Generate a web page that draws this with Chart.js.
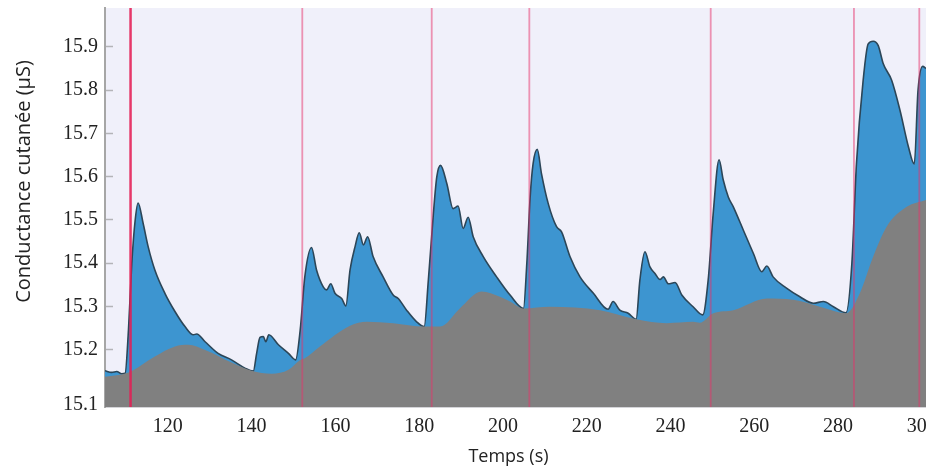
<!DOCTYPE html>
<html>
<head>
<meta charset="utf-8">
<script src="https://cdn.jsdelivr.net/npm/chart.js@4/dist/chart.umd.min.js"></script>
<style>
  html, body { margin: 0; padding: 0; background: #fff; }
  #wrap { width: 926px; height: 468px; }
</style>
</head>
<body>
<div id="wrap"><canvas id="edaChart" width="926" height="468"></canvas></div>
<script>
// --- Values ---
// skin conductance (blue), seconds / µS
const scTimes = [
  105.0, 106.6, 107.8, 109.0, 109.8, 110.6, 111.4, 112.2, 112.9, 114.1,
  115.3, 116.9, 119.3, 121.7, 124.1, 126.1, 126.9, 128.9, 132.0, 135.2,
  138.4, 140.4, 141.2, 142.0, 142.8, 143.4, 144.1, 146.4, 148.8, 150.5,
  151.6, 152.7, 154.3, 155.5, 157.1, 157.9, 158.9, 159.9, 161.5, 162.5,
  163.5, 164.7, 165.7, 166.7, 167.7, 169.0, 171.4, 173.8, 175.0, 177.0,
  179.4, 181.2, 182.2, 183.4, 184.2, 185.1, 186.6, 188.1, 189.3, 190.5,
  191.7, 192.9, 195.3, 198.5, 201.7, 204.9, 205.7, 206.5, 207.2, 208.2,
  209.2, 210.8, 212.8, 214.0, 216.0, 218.4, 221.6, 225.1, 226.3, 227.9,
  229.9, 231.8, 232.7, 233.9, 235.1, 236.3, 237.5, 238.3, 239.5, 241.1,
  242.7, 245.4, 247.7, 249.0, 250.2, 251.6, 252.6, 253.8, 255.0, 257.4,
  259.8, 261.8, 263.0, 264.5, 267.7, 270.9, 274.1, 276.5, 278.9, 281.9,
  283.3, 284.4, 286.0, 287.2, 288.4, 289.6, 290.8, 292.8, 294.8, 296.8,
  298.2, 299.1, 300.2, 301.0,
];
const scValues = [
  15.151, 15.147, 15.149, 15.144, 15.145, 15.245, 15.400, 15.499, 15.539, 15.492,
  15.438, 15.384, 15.330, 15.288, 15.253, 15.234, 15.236, 15.218, 15.191, 15.176,
  15.157, 15.150, 15.191, 15.228, 15.230, 15.218, 15.234, 15.211, 15.191, 15.176,
  15.245, 15.368, 15.436, 15.384, 15.345, 15.338, 15.352, 15.330, 15.318, 15.301,
  15.384, 15.438, 15.470, 15.442, 15.461, 15.415, 15.368, 15.326, 15.318, 15.291,
  15.264, 15.253, 15.361, 15.515, 15.599, 15.626, 15.584, 15.526, 15.532, 15.480,
  15.506, 15.461, 15.415, 15.368, 15.326, 15.295, 15.399, 15.553, 15.630, 15.663,
  15.607, 15.538, 15.484, 15.472, 15.415, 15.368, 15.330, 15.293, 15.311, 15.291,
  15.284, 15.270, 15.361, 15.426, 15.391, 15.376, 15.362, 15.368, 15.352, 15.355,
  15.326, 15.299, 15.280, 15.361, 15.515, 15.639, 15.592, 15.553, 15.530, 15.476,
  15.422, 15.380, 15.393, 15.368, 15.342, 15.322, 15.307, 15.311, 15.299, 15.285,
  15.399, 15.630, 15.823, 15.907, 15.913, 15.903, 15.861, 15.823, 15.753, 15.669,
  15.629, 15.800, 15.855, 15.850,
];

// tonic level (grey)
const tonicTimes = [
  105.0, 110.6, 116.9, 121.7, 124.9, 128.9, 135.2, 140.0, 144.8, 148.8,
  151.6, 152.7, 156.3, 163.5, 167.5, 173.8, 181.2, 185.0, 189.7, 194.9,
  199.3, 201.7, 204.9, 211.2, 223.2, 231.9, 239.1, 245.4, 247.0, 250.2,
  255.0, 263.0, 269.3, 275.7, 282.0, 285.2, 288.4, 291.6, 296.4, 301.0,
];
const tonicValues = [
  15.137, 15.147, 15.184, 15.207, 15.211, 15.199, 15.170, 15.151, 15.144, 15.153,
  15.176, 15.180, 15.207, 15.255, 15.264, 15.261, 15.253, 15.253, 15.295, 15.334,
  15.322, 15.311, 15.295, 15.299, 15.291, 15.270, 15.261, 15.264, 15.262, 15.284,
  15.291, 15.318, 15.315, 15.299, 15.284, 15.330, 15.415, 15.484, 15.530, 15.546,
];

// stimulus onsets (red markers)
const eventTimes = [111.1, 152.1, 183.0, 206.3, 249.6, 283.8, 299.4];

const X_MIN = 105;
const X_MAX = 301;
const X_STEP = 20;
const Y_MIN = 15.067;
const Y_MAX = 15.99;
const Y_STEP = 0.1;

// --- Build datasets ---
const toPoints = (xs, ys) => xs.map((x, i) => ({ x: x, y: ys[i] }));

const markerSets = eventTimes.map((t, i) => ({
  data: [
    { x: t, y: Y_MIN },
    { x: t, y: Y_MAX },
  ],
  borderColor: i === 0 ? "rgba(228,30,84,0.88)" : "rgba(232,50,105,0.5)",
  borderWidth: i === 0 ? 2.5 : 1.8,
  pointRadius: 0,
  fill: false,
  order: 1,
}));

// lavender plot background
const plotBackground = {
  id: "plotBackground",
  beforeDraw(chart) {
    const { ctx, chartArea: a } = chart;
    ctx.save();
    ctx.fillStyle = "#f0f0fa";
    ctx.fillRect(a.left, a.top, a.right - a.left, a.bottom - a.top);
    ctx.restore();
  },
};

const serif = { family: "'Liberation Serif', 'Times New Roman', serif", size: 20 };

new Chart(document.getElementById("edaChart"), {
  type: "line",
  data: {
    datasets: [
      ...markerSets,
      {
        label: "tonique",
        data: toPoints(tonicTimes, tonicValues),
        borderColor: "rgba(128,128,128,0)",
        borderWidth: 0,
        backgroundColor: "#808080",
        fill: "start",
        pointRadius: 0,
        cubicInterpolationMode: "monotone",
        order: 2,
      },
      {
        label: "Conductance cutanée",
        data: toPoints(scTimes, scValues),
        borderColor: "#2c4658",
        borderWidth: 1.6,
        backgroundColor: "#3d95d0",
        fill: "start",
        pointRadius: 0,
        cubicInterpolationMode: "monotone",
        order: 3,
      },
    ],
  },
  options: {
    responsive: false,
    animation: false,
    layout: { padding: { top: 8, left: 0, right: 0, bottom: 0 } },
    plugins: {
      legend: { display: false },
      tooltip: { enabled: false },
    },
    scales: {
      x: {
        type: "linear",
        min: X_MIN,
        max: X_MAX,
        grid: { display: false },
        border: { display: true, color: "#d4d4d8", width: 1 },
        ticks: {
          stepSize: X_STEP,
          includeBounds: false,
          autoSkip: false,
          color: "#222",
          font: serif,
          padding: 0,
          maxRotation: 0,
        },
        title: {
          display: true,
          text: "Temps (s)\u00a0\u00a0\u00a0",
          color: "#222",
          font: { family: "'Open Sans', sans-serif", size: 18 },
          padding: { top: 0, bottom: 0 },
        },
        afterFit: (s) => {
          s.height = 61;
          s.paddingLeft = 0;
          s.paddingRight = 0;
        },
      },
      y: {
        min: Y_MIN,
        max: Y_MAX,
        grid: {
          drawOnChartArea: false,
          drawTicks: true,
          tickLength: -8,
          tickColor: "#b4b4b8",
          tickWidth: 1.5,
        },
        border: { display: true, color: "#a6a6a6", width: 2 },
        ticks: {
          stepSize: Y_STEP,
          includeBounds: false,
          autoSkip: false,
          color: "#222",
          font: serif,
          padding: 15,
          // bottom label sits low, against the axis, in the original
          callback: (v) =>
            Math.abs(v - 15.1) < 1e-6 ? ["", v.toFixed(1)] : v.toFixed(1),
        },
        title: {
          display: true,
          text: "\u00a0".repeat(10) + "Conductance cutanée (µS)",
          color: "#222",
          font: { family: "'Open Sans', sans-serif", size: 20 },
          padding: { top: 12, bottom: 0 },
        },
        afterFit: (s) => {
          s.width = 105;
          s.paddingTop = 0;
          s.paddingBottom = 0;
        },
      },
    },
  },
  plugins: [plotBackground],
});
</script>
</body>
</html>
